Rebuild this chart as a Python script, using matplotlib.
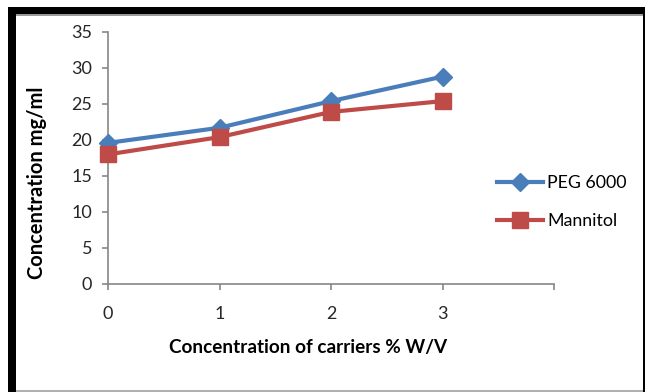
import matplotlib

matplotlib.use("Agg")
import matplotlib.pyplot as plt
from matplotlib.lines import Line2D
from matplotlib.patches import Rectangle

# carrier concentration (% W/V) vs drug concentration (mg/ml)
carrier_pct = [0, 1, 2, 3]
peg_6000 = [19.6, 21.7, 25.4, 28.8]
mannitol = [18.0, 20.4, 23.9, 25.4]
y_ticks = [0, 5, 10, 15, 20, 25, 30, 35]

BLUE = "#4A7EBB"
RED = "#BE4B48"
AXIS_GREY = "#868686"
FONT = ["Lato", "DejaVu Sans"]

plt.rcParams["font.family"] = FONT

W, H = 645, 392
fig = plt.figure(figsize=(W / 100, H / 100), dpi=100)
fig.patch.set_facecolor("white")

# black frame with grey rules, drawn in figure pixel coords
def px_rect(x0, y0, x1, y1, color):
    fig.patches.append(Rectangle((x0 / W, 1 - y1 / H), (x1 - x0) / W, (y1 - y0) / H,
                                 transform=fig.transFigure, facecolor=color,
                                 edgecolor="none", zorder=0))

px_rect(8, 7, 645, 14, "black")
px_rect(8, 7, 16, 392, "black")
px_rect(643, 7, 645, 392, "black")
px_rect(16, 14, 643, 15.5, "#9a9a9a")
px_rect(16, 390, 643, 392, "#b0b0b0")

ax_l, ax_r, ax_t, ax_b = 108, 554, 32, 284
ax = fig.add_axes([ax_l / W, 1 - ax_b / H, (ax_r - ax_l) / W, (ax_b - ax_t) / H])

ax.plot(carrier_pct, peg_6000, color=BLUE, lw=3, marker="D", ms=9.5,
        markeredgecolor=BLUE, solid_capstyle="butt", clip_on=False, zorder=3)
ax.plot(carrier_pct, mannitol, color=RED, lw=3, marker="s", ms=11,
        markeredgecolor=RED, solid_capstyle="butt", clip_on=False, zorder=3)

ax.set_xlim(0, 4)
ax.set_ylim(0, 35)
ax.set_xticks([0, 1, 2, 3, 4])
ax.set_xticklabels([str(c) for c in carrier_pct] + [""])
ax.set_yticks(y_ticks)
ax.set_yticklabels([str(v) for v in y_ticks])

for side in ("top", "right"):
    ax.spines[side].set_visible(False)
for side in ("left", "bottom"):
    ax.spines[side].set_color(AXIS_GREY)
    ax.spines[side].set_linewidth(1.2)
ax.tick_params(axis="both", direction="out", length=4.5, width=1.2, color=AXIS_GREY,
               labelsize=13, labelcolor="#262626")
ax.tick_params(axis="y", pad=7)
ax.tick_params(axis="x", pad=11)

fig.text(308 / W, 1 - 347 / H, "Concentration of carriers % W/V", ha="center",
         va="center", fontsize=13.6, fontweight="bold", color="black")
fig.text(37 / W, 1 - 183 / H, "Concentration mg/ml", ha="center", va="center",
         rotation=90, fontsize=14.5, fontweight="bold", color="black")

handles = [
    Line2D([], [], color=BLUE, lw=3, marker="D", ms=9.5, markeredgecolor=BLUE),
    Line2D([], [], color=RED, lw=3, marker="s", ms=11, markeredgecolor=RED),
]
fig.legend(handles, ["PEG 6000", "Mannitol"], loc="center left",
           bbox_to_anchor=(490 / W, 1 - 202 / H), frameon=False, fontsize=12.8,
           handlelength=2.6, handletextpad=0.2, labelspacing=1.25, borderaxespad=0)

fig.savefig("out.png", dpi=100, facecolor="white")
